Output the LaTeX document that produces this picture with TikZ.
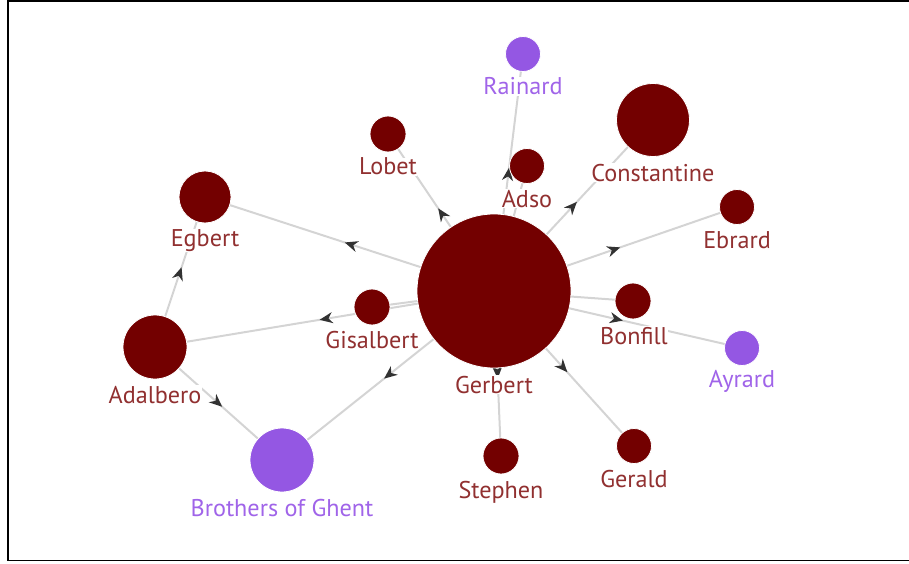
\documentclass[tikz,border=0pt]{standalone}
\usepackage{fontspec}
\setmainfont{PT Sans}
\usetikzlibrary{arrows.meta,decorations.markings}
\definecolor{nodered}{RGB}{115,0,0}
\definecolor{labelred}{RGB}{145,48,48}
\definecolor{nodepurple}{RGB}{148,87,227}
\definecolor{labelpurple}{RGB}{160,100,233}
\definecolor{edgegray}{RGB}{212,212,212}
\definecolor{arrowgray}{RGB}{50,50,50}
\begin{document}
\begin{tikzpicture}[x=1pt,y=-1pt,
  link/.style={draw=edgegray, line width=2pt, postaction={decorate},
    decoration={markings, mark=at position 0.5 with {\arrow[arrowgray,xshift=5pt]{Stealth[length=13pt,width=11pt,inset=4pt]}}}},
  dot/.style={circle, fill=nodered, draw=white, line width=0.8pt, inner sep=0pt, minimum size=#1},
  pdot/.style={dot=#1, fill=nodepurple},
  lbl/.style={anchor=base, text=labelred, font=\fontsize{24.2}{26}\selectfont, fill=white, inner sep=0.5pt},
  plbl/.style={lbl, text=labelpurple}]
\useasboundingbox (0,0) rectangle (909,564);
\draw[line width=1.8pt] (909,1) -- (8,1) -- (8,560.5) -- (909,560.5);

% positions
\coordinate (gerbert) at (494,291);
\coordinate (rainard) at (523,54);
\coordinate (lobet) at (388,134);
\coordinate (adso) at (527,166);
\coordinate (constantine) at (653,120);
\coordinate (ebrard) at (737,207);
\coordinate (egbert) at (205,197);
\coordinate (adalbero) at (155,347);
\coordinate (gisalbert) at (372,307);
\coordinate (bonfill) at (633,301);
\coordinate (ayrard) at (742,348);
\coordinate (brothers) at (282,460);
\coordinate (stephen) at (501,456);
\coordinate (gerald) at (634,446);

% connectors
\foreach \t in {egbert,lobet,rainard,adso,constantine,ebrard,bonfill,ayrard,gerald,stephen,brothers,gisalbert,adalbero}
  \draw[link] (gerbert) -- (\t);
\draw[link] (adalbero) -- (egbert);
\draw[link] (adalbero) -- (brothers);

% circles
\node[dot=154pt] (gerbert-c) at (gerbert) {};
\node[pdot=35pt] (rainard-c) at (rainard) {};
\node[dot=36pt] (lobet-c) at (lobet) {};
\node[dot=35pt] (adso-c) at (adso) {};
\node[dot=73pt] (constantine-c) at (constantine) {};
\node[dot=35pt] (ebrard-c) at (ebrard) {};
\node[dot=52pt] (egbert-c) at (egbert) {};
\node[dot=64pt] (adalbero-c) at (adalbero) {};
\node[dot=36pt] (gisalbert-c) at (gisalbert) {};
\node[dot=36pt] (bonfill-c) at (bonfill) {};
\node[pdot=35pt] (ayrard-c) at (ayrard) {};
\node[pdot=64pt] (brothers-c) at (brothers) {};
\node[dot=36pt] (stephen-c) at (stephen) {};
\node[dot=35pt] (gerald-c) at (gerald) {};

% labels
\node[lbl] (gerbert-l) at (494,393) {Gerbert};
\node[plbl] (rainard-l) at (523,95) {Rainard};
\node[lbl] (lobet-l) at (388,175) {Lobet};
\node[lbl] (adso-l) at (527,207) {Adso};
\node[lbl] (constantine-l) at (653,181) {Constantine};
\node[lbl] (ebrard-l) at (737,248) {Ebrard};
\node[lbl] (egbert-l) at (205,246) {Egbert};
\node[lbl] (adalbero-l) at (155,403) {Adalbero};
\node[lbl] (gisalbert-l) at (372,348) {Gisalbert};
\node[lbl] (bonfill-l) at (634,344) {Bonfill};
\node[plbl] (ayrard-l) at (742,387) {Ayrard};
\node[plbl] (brothers-l) at (282,516) {Brothers of Ghent};
\node[lbl] (stephen-l) at (501,498) {Stephen};
\node[lbl] (gerald-l) at (634,487) {Gerald};
\end{tikzpicture}
\end{document}
